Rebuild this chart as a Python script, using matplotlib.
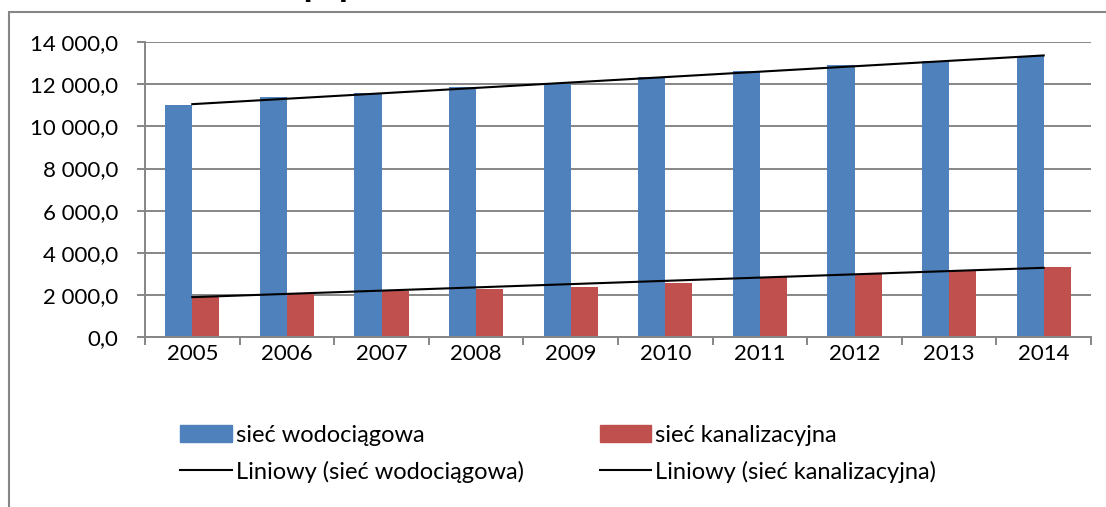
import matplotlib
matplotlib.use("Agg")
import matplotlib.pyplot as plt
import numpy as np
from matplotlib.patches import Rectangle, Patch
from matplotlib.lines import Line2D
from matplotlib.ticker import FuncFormatter, MultipleLocator, FixedLocator

# długość sieci w km
lata = ["2005", "2006", "2007", "2008", "2009", "2010", "2011", "2012", "2013", "2014"]
wodociagowa = [11010, 11370, 11560, 11850, 12000, 12320, 12600, 12890, 13090, 13350]
kanalizacyjna = [1980, 2115, 2210, 2305, 2400, 2590, 2860, 3000, 3175, 3345]

niebieski = "#4F81BD"
czerwony = "#C0504D"
szary = "#868686"

plt.rcParams['font.family'] = ['Lato', 'DejaVu Sans']

W, H = 1106, 507
fig = plt.figure(figsize=(W / 100, H / 100), dpi=100)
ax = fig.add_axes([145 / W, 1 - 337.3 / H, (1091 - 145) / W, 295.4 / H])

x = np.arange(len(lata))
w = 0.2857
ax.bar(x - w / 2, wodociagowa, w, color=niebieski, zorder=2)
ax.bar(x + w / 2, kanalizacyjna, w, color=czerwony, zorder=2)

# linie trendu (regresja liniowa)
for dane in (wodociagowa, kanalizacyjna):
    a, b = np.polyfit(x, dane, 1)
    ax.plot(x, a * x + b, color="black", lw=1.5, zorder=3)

ax.set_xlim(-0.5, len(lata) - 0.5)
ax.set_ylim(0, 14000)
ax.yaxis.set_major_locator(MultipleLocator(2000))
ax.yaxis.set_major_formatter(FuncFormatter(
    lambda v, p: f"{v:,.1f}".replace(",", " ").replace(".", ",")))
ax.grid(axis="y", color=szary, lw=1.4, zorder=0)

ax.set_xticks(x)
ax.set_xticklabels(lata)
ax.xaxis.set_minor_locator(FixedLocator(np.arange(-0.5, len(lata), 1.0)))
ax.tick_params(axis="x", which="major", length=0, pad=5, labelsize=16)
ax.tick_params(axis="x", which="minor", length=6, width=1.4, color=szary, direction="out")
ax.tick_params(axis="y", length=6, width=1.4, color=szary, pad=13, labelsize=16)

for s in ("top", "right"):
    ax.spines[s].set_visible(False)
for s in ("left", "bottom"):
    ax.spines[s].set_color(szary)
    ax.spines[s].set_linewidth(1.4)

# ramka wykresu
fig.add_artist(Rectangle((9 / W, -0.2), 1.2, 1.2 - 11.5 / H, transform=fig.transFigure,
                         fill=False, ec=szary, lw=1.5))
fig.text(303 / W, 1 + 2.0 / H, "[km]", fontsize=16, fontweight="bold",
         ha="left", va="baseline")

uchwyty = [Patch(color=niebieski), Line2D([], [], color="black", lw=1.5),
           Patch(color=czerwony), Line2D([], [], color="black", lw=1.5)]
etykiety = ["sieć wodociągowa", "Liniowy (sieć wodociągowa)",
            "sieć kanalizacyjna", "Liniowy (sieć kanalizacyjna)"]
fig.legend(uchwyty, etykiety, ncol=2, loc="upper left",
           bbox_to_anchor=(180 / W, 1 - 425 / H), frameon=False, fontsize=17,
           borderpad=0, borderaxespad=0, handlelength=2.2, handletextpad=0.17,
           labelspacing=0.62, columnspacing=3.2)

fig.savefig("out.png", dpi=100)
